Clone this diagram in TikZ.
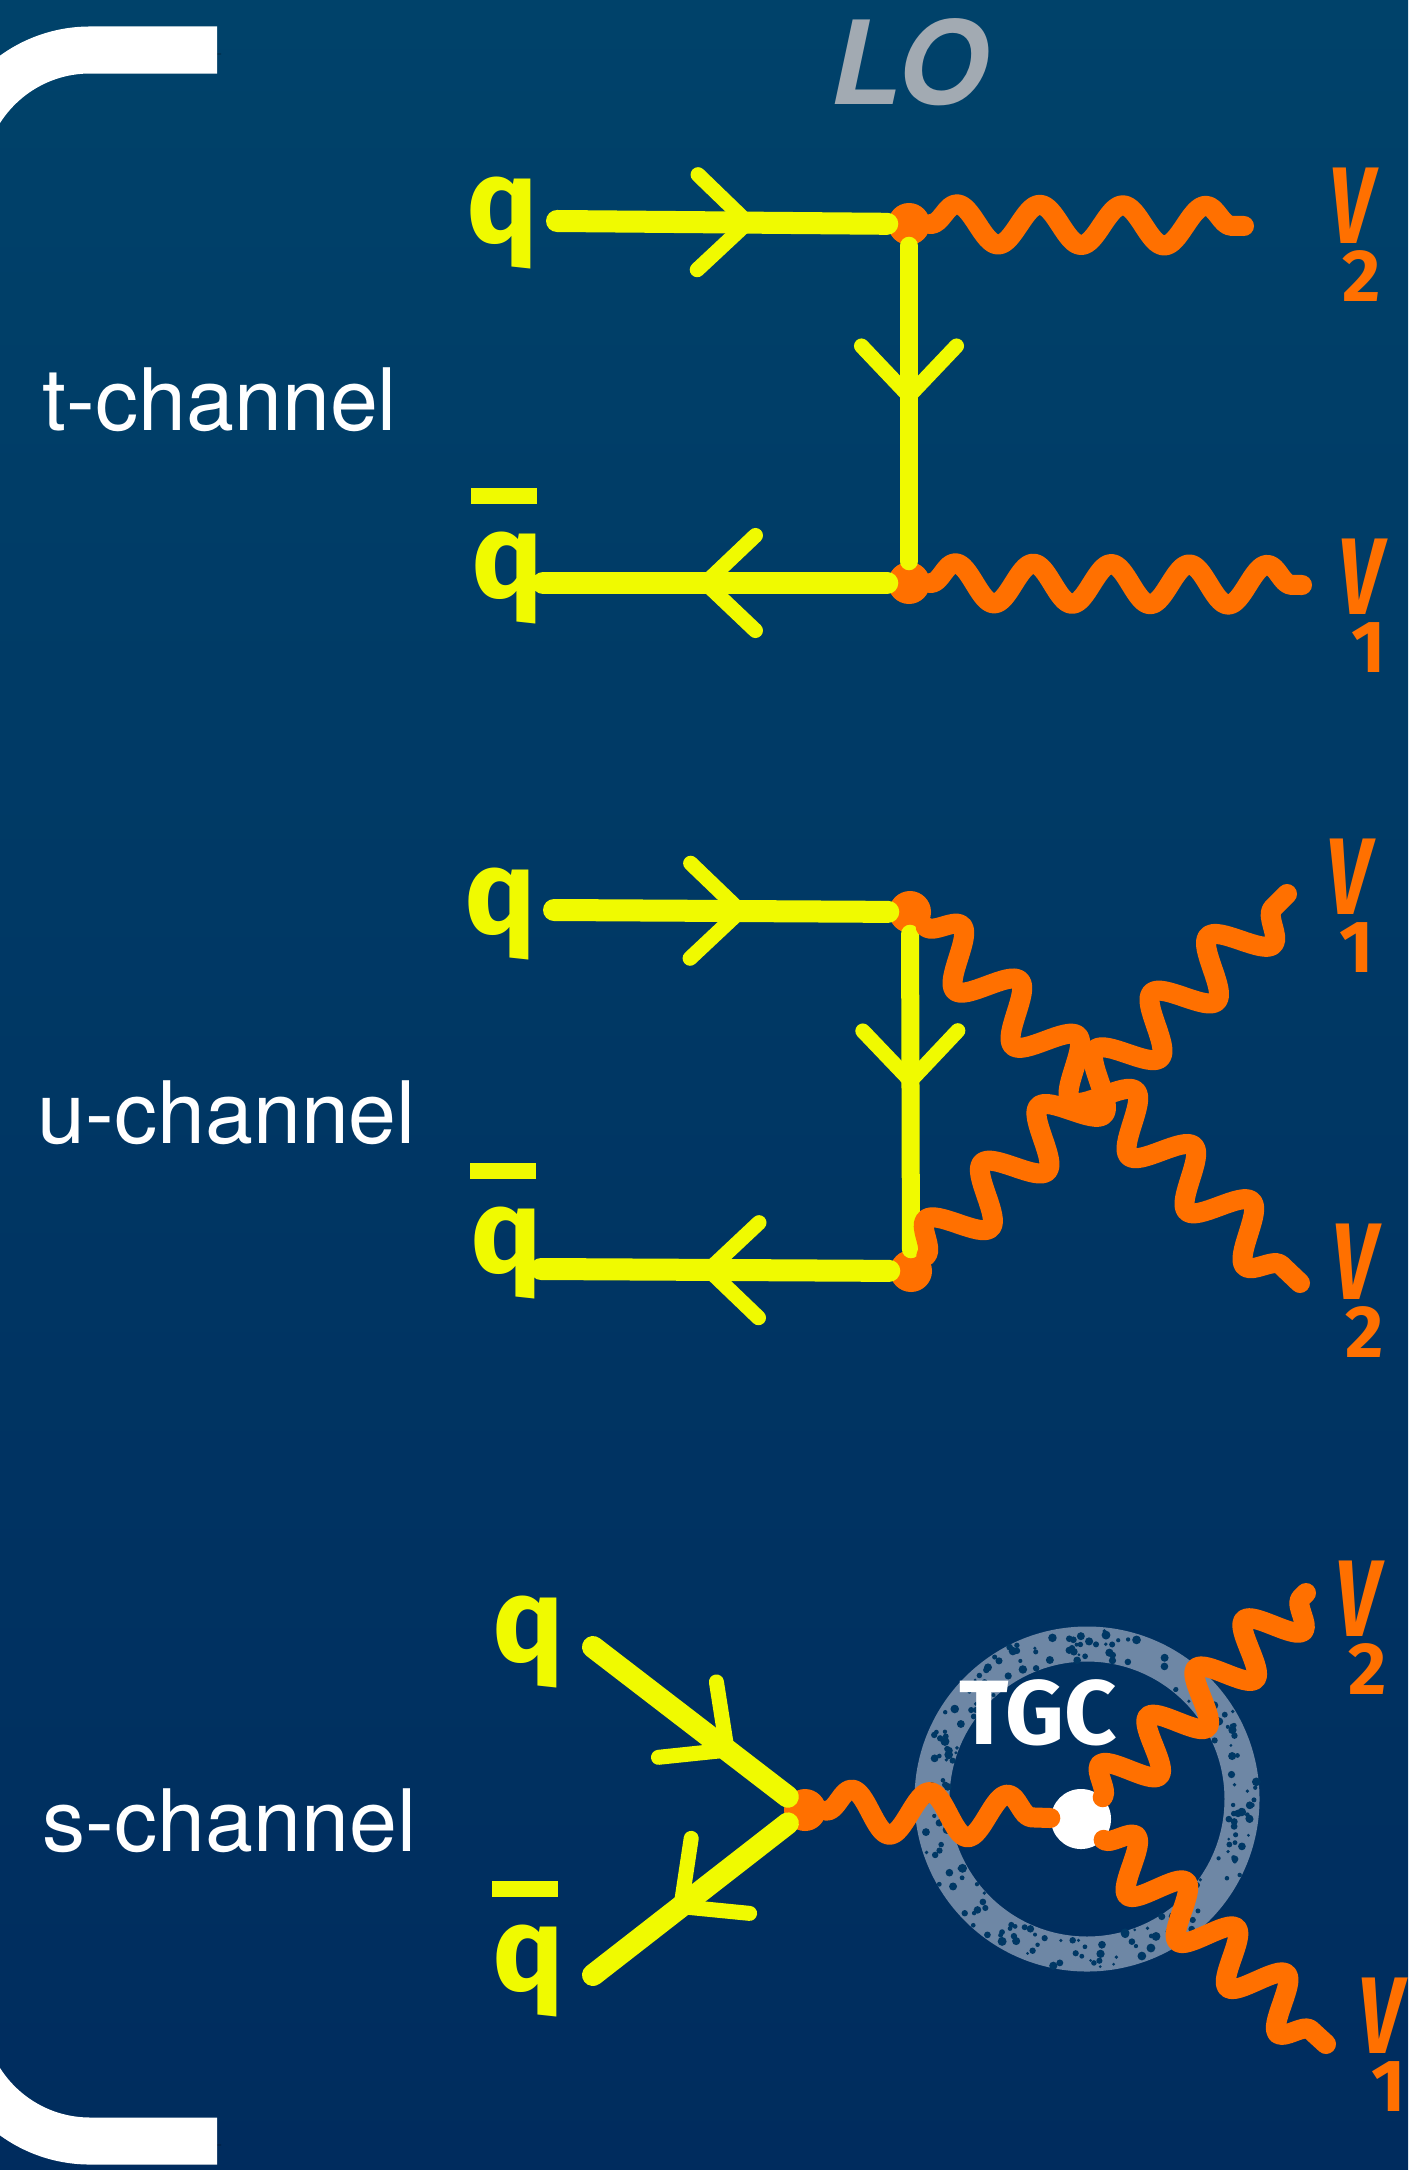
\documentclass[tikz,border=0pt]{standalone}
\usepackage{fontspec}
\setmainfont{TeX Gyre Heros}
\newfontfamily\handfont{Fira Sans}
\usetikzlibrary{arrows.meta,decorations.pathmorphing,decorations.markings,calc}

\definecolor{bgtop}{RGB}{0,66,106}
\definecolor{bgbot}{RGB}{0,44,94}
\definecolor{qyellow}{RGB}{240,250,0}
\definecolor{vorange}{RGB}{255,112,0}
\definecolor{ringgrey}{RGB}{110,135,165}
\definecolor{titlegrey}{RGB}{162,170,178}

% antiquark and boson labels
\newcommand\qbar{\rlap{\raisebox{0.78em}{\rule{0.55em}{0.13em}}}q}
\newcommand\vlab[1]{{\itshape\scalebox{0.72}[1]{V}}\kern-9pt\raisebox{-16.5pt}{\fontsize{21}{21}\selectfont #1}}

\tikzset{
	shadow/.style={preaction={draw=black, draw opacity=0.3, transform canvas={shift={(4,4)}}}},
	fermion/.style={draw=qyellow, line width=0.22cm, line cap=round, shadow,
		postaction={decorate},
		decoration={markings, mark=at position #1 with {\arrow[qyellow]{Straight Barb[length=0.5cm, width=0.95cm, line width=0.15cm, round]}}}},
	boson/.style n args={2}{draw=vorange, line width=0.2cm, line cap=round, line join=round, shadow,
		decorate, decoration={snake, amplitude=#1, segment length=#2}},
	vtx/.style={circle, fill=vorange, minimum size=0.42cm, inner sep=0pt},
	chan/.style={anchor=base west, inner sep=0pt, text=white, font=\fontsize{24.5}{30}\selectfont},
	qlab/.style={anchor=base, inner sep=0pt, text=qyellow, font=\handfont\bfseries\fontsize{34}{34}\selectfont},
	vlabel/.style={anchor=north west, inner sep=0pt, text=vorange, font=\handfont\bfseries\fontsize{31}{31}\selectfont}
}

\begin{document}
\begin{tikzpicture}[x=0.01cm, y=-0.01cm]
	\useasboundingbox (0,0) rectangle (1408,2170);
	\shade[top color=bgtop, bottom color=bgbot] (0,0) rectangle (1408,2170);

	% big bracket on the left
	\draw[white, line width=0.47cm, rounded corners=1.3cm, shadow] (217,50) -- (-40,50) -- (-40,2141) -- (217,2141);

	\node (lo) [text=titlegrey, font=\bfseries\itshape\fontsize{33}{33}\selectfont] at (909,62) {LO};
	\node (tlab) [chan] at (42,431) {t-channel};
	\node (ulab) [chan] at (37,1143) {u-channel};
	\node (slab) [chan] at (42,1851) {s-channel};

	% t-channel
	\coordinate (tqin) at (557,221);
	\coordinate (tqout) at (543,583);
	\coordinate (tv2) at (1244,226);
	\coordinate (tv1) at (1302,585);
	\node (ttop) [vtx] at (909,224) {};
	\node (tbot) [vtx] at (909,583) {};
	\draw[fermion=0.6] (tqin) -- (ttop);
	\draw[fermion=0.5, line width=0.18cm] (ttop) -- (tbot);
	\draw[fermion=0.55] (tbot) -- (tqout);
	\draw[boson={0.2cm}{0.83cm}] (ttop) -- (tv2);
	\draw[boson={0.2cm}{0.78cm}] (tbot) -- (tv1);
	\node (tq) [qlab] at (502,243) {q};
	\node (tqb) [qlab] at (507,597) {\qbar};
	\node (tV2) [vlabel] at (1329,167) {\vlab{2}};
	\node (tV1) [vlabel] at (1338,538) {\vlab{1}};

	% u-channel
	\coordinate (uqin) at (554,910);
	\coordinate (uqout) at (541,1269);
	\coordinate (uv2) at (1300,1283);
	\coordinate (uv1) at (1287,894);
	\node (utop) [vtx] at (910,912) {};
	\node (ubot) [vtx] at (911,1271) {};
	\draw[fermion=0.58] (uqin) -- (utop);
	\draw[fermion=0.49, line width=0.18cm] (utop) -- (ubot);
	\draw[fermion=0.54] (ubot) -- (uqout);
	\draw[boson={0.26cm}{0.8cm}] (utop) -- (uv2);
	\draw[boson={0.26cm}{0.8cm}] (ubot) -- (uv1);
	\node (uq) [qlab] at (500,933) {q};
	\node (uqb) [qlab] at (506,1272) {\qbar};
	\node (uV1) [vlabel] at (1326,838) {\vlab{1}};
	\node (uV2) [vlabel] at (1332,1223) {\vlab{2}};

	% s-channel
	\coordinate (sqin) at (593,1647);
	\coordinate (sqout) at (593,1975);
	\coordinate (sv2) at (1306,1593);
	\coordinate (sv1) at (1326,2044);
	\coordinate (tgcring) at (1087,1799);
	\node (svtx) [vtx] at (805,1810) {};

	% rough ring round the triple vertex
	\draw[ringgrey, line width=0.35cm] (tgcring) circle (155);
	\pgfmathsetseed{11}
	\foreach \i in {1,...,220}{
		\pgfmathsetmacro\ang{360*rnd}
		\pgfmathsetmacro\rad{139+32*rnd}
		\pgfmathsetmacro\spk{1.5+3*rnd}
		\fill[bgtop!55!bgbot] ($(tgcring)+(\ang:\rad)$) circle (\spk);
	}
	\node (tgc) [circle, fill=white, minimum size=0.6cm, inner sep=0pt] at (1081,1819) {};

	\draw[fermion=0.72] (sqin) -- (svtx);
	\draw[fermion=0.58] (svtx) -- (sqout);
	\draw[boson={0.22cm}{0.78cm}] (svtx) -- (tgc);
	\draw[boson={0.25cm}{0.68cm}] (tgc) -- (sv2);
	\draw[boson={0.25cm}{0.68cm}] (tgc) -- (sv1);
	\node (tgctext) [text=white, font=\handfont\bfseries\fontsize{26}{26}\selectfont] at (1038,1713) {TGC};
	\node (sq) [qlab] at (528,1661) {q};
	\node (sqb) [qlab] at (528,1990) {\qbar};
	\node (sV2) [vlabel] at (1335,1560) {\vlab{2}};
	\node (sV1) [vlabel] at (1358,1977) {\vlab{1}};
\end{tikzpicture}
\end{document}
